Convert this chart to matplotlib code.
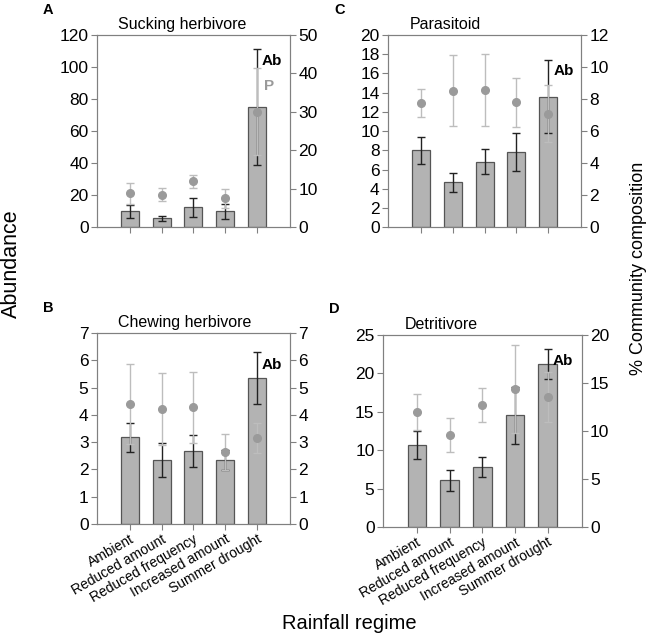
import matplotlib

matplotlib.use("Agg")
import matplotlib.pyplot as plt
import numpy as np

plt.rcParams["font.family"] = ["Liberation Sans", "DejaVu Sans"]

regimes = ["Ambient", "Reduced amount", "Reduced frequency", "Increased amount", "Summer drought"]

# A: sucking herbivore
suck_abund = [10, 5.5, 12.5, 9.8, 75]
suck_abund_se = [4, 1.5, 6, 4.8, 36]
suck_comp = [8.8, 8.4, 11.9, 7.5, 30.1]
suck_comp_se = [2.8, 1.7, 1.7, 2.4, 11.3]

# B: chewing herbivore
chew_abund = [3.17, 2.33, 2.67, 2.34, 5.34]
chew_abund_se = [0.53, 0.62, 0.6, 0.35, 0.95]
chew_comp = [4.39, 4.21, 4.27, 2.63, 3.16]
chew_comp_se = [1.47, 1.32, 1.31, 0.65, 0.55]

# C: parasitoid
para_abund = [8.0, 4.65, 6.8, 7.8, 13.6]
para_abund_se = [1.4, 1.0, 1.3, 2.0, 3.8]
para_comp = [7.77, 8.52, 8.56, 7.79, 7.1]
para_comp_se = [0.87, 2.23, 2.24, 1.55, 1.8]

# D: detritivore
detr_abund = [10.65, 6.09, 7.8, 14.55, 21.17]
detr_abund_se = [1.83, 1.39, 1.32, 3.7, 1.96]
detr_comp = [12.0, 9.57, 12.7, 14.37, 13.5]
detr_comp_se = [1.85, 1.8, 1.8, 4.55, 2.6]

SPINE = "#808080"
BAR = "#b3b3b3"
BAR_EDGE = "#555555"
DOT = "#9a9a9a"
DOT_ERR = "#bdbdbd"


def draw_panel(fig, rect, letter, title, abund, abund_se, comp, comp_se,
               left_max, left_step, right_max, right_step, ab_y, p_y=None, show_x=False):
    x = np.arange(len(regimes))
    ax = fig.add_axes(rect)
    ax.bar(x, abund, width=0.57, color=BAR, edgecolor=BAR_EDGE, linewidth=0.9, zorder=2)
    ax.errorbar(x, abund, yerr=abund_se, fmt="none", ecolor="#222222",
                elinewidth=1.0, capsize=3.2, capthick=1.0, zorder=3)
    ax.set_xlim(-1.05, 5.05)
    ax.set_ylim(0, left_max)
    ax.set_yticks(np.arange(0, left_max + 0.001, left_step))

    ax2 = ax.twinx()
    ax2.errorbar(x, comp, yerr=comp_se, fmt="o", color=DOT, markersize=5.5,
                 ecolor=DOT_ERR, elinewidth=1.0, capsize=3.2, capthick=1.0, zorder=4)
    ax2.set_ylim(0, right_max)
    ax2.set_yticks(np.arange(0, right_max + 0.001, right_step))

    for a in (ax, ax2):
        for s in a.spines.values():
            s.set_color(SPINE)
        a.tick_params(axis="both", colors=SPINE, labelcolor="black",
                      labelsize=12.5, length=4, direction="out", pad=2)

    ax.set_xticks(x)
    if show_x:
        ax.set_xticklabels(regimes, rotation=30, ha="right", rotation_mode="anchor", fontsize=10)
    else:
        ax.set_xticklabels([])

    ax.text(4.17, ab_y, "Ab", fontsize=11, fontweight="bold", va="center", ha="left", zorder=5)
    if p_y is not None:
        ax.text(4.22, p_y, "P", fontsize=11, fontweight="bold", color=DOT,
                va="center", ha="left", zorder=5)
    ax.text(0.11, 1.015, title, transform=ax.transAxes, fontsize=11.5, ha="left", va="bottom")
    fig.text(rect[0] - 0.075, rect[1] + rect[3] + 0.04, letter, fontsize=10.5,
             fontweight="bold", ha="center", va="center")
    return ax


fig = plt.figure(figsize=(6.5, 6.38), dpi=100)

draw_panel(fig, [0.149, 0.644, 0.297, 0.301], "A", "Sucking herbivore",
           suck_abund, suck_abund_se, suck_comp, suck_comp_se, 120, 20, 50, 10, 104, 88)
draw_panel(fig, [0.597, 0.644, 0.297, 0.301], "C", "Parasitoid",
           para_abund, para_abund_se, para_comp, para_comp_se, 20, 2, 12, 2, 16.3)
draw_panel(fig, [0.149, 0.179, 0.297, 0.299], "B", "Chewing herbivore",
           chew_abund, chew_abund_se, chew_comp, chew_comp_se, 7, 1, 7, 1, 5.83, show_x=True)
draw_panel(fig, [0.589, 0.174, 0.306, 0.301], "D", "Detritivore",
           detr_abund, detr_abund_se, detr_comp, detr_comp_se, 25, 5, 20, 5, 21.6, show_x=True)

fig.text(0.018, 0.586, "Abundance", rotation=90, fontsize=15.5, ha="center", va="center")
fig.text(0.983, 0.58, "% Community composition", rotation=90, fontsize=13,
         ha="center", va="center")
fig.text(0.538, 0.0235, "Rainfall regime", fontsize=14.5, ha="center", va="center")

fig.savefig("out.png", dpi=100)
